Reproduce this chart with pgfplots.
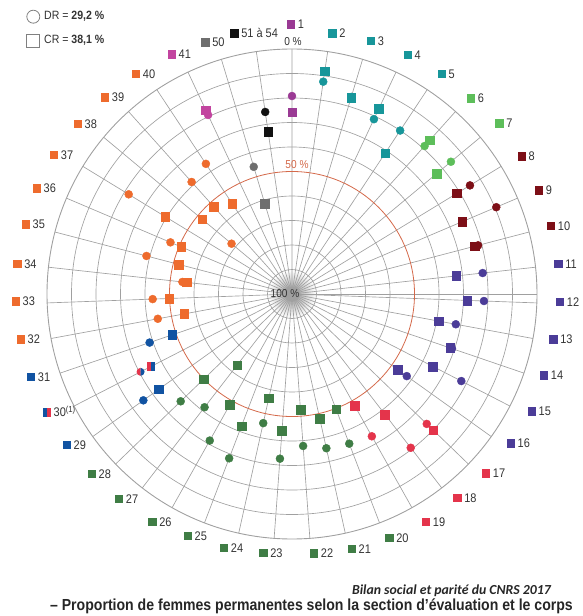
\documentclass[border=0pt]{standalone}
\usepackage{fontspec}
\setmainfont{Liberation Sans}[FakeStretch=0.88]
\newfontfamily\capfont{Carlito}
\usepackage{pgfplots}
\pgfplotsset{compat=1.18}
\usepgfplotslibrary{polar}
\usepackage{pgfplotstable}

\definecolor{c1}{HTML}{9A3A94}
\definecolor{cteal}{HTML}{17969A}
\definecolor{clgreen}{HTML}{5DBE5A}
\definecolor{cdred}{HTML}{7D0F17}
\definecolor{cindigo}{HTML}{4B3C98}
\definecolor{cred}{HTML}{E4344B}
\definecolor{cdgreen}{HTML}{3F7D45}
\definecolor{cblue}{HTML}{1153A2}
\definecolor{corange}{HTML}{EE6B2D}
\definecolor{cmag}{HTML}{C2449F}
\definecolor{cgray}{HTML}{6E6E6E}
\definecolor{cblack}{HTML}{111111}
\definecolor{gridgray}{HTML}{A0A0A0}
\definecolor{c50}{HTML}{D4694A}
\definecolor{labtext}{HTML}{333333}

% DR (circles): k = section index (1..41, 42 = 50, 43 = 51 a 54), p = % women
\pgfplotstableread{
k p g
1 19.2 g1
2 12.4 g2
3 16.0 g2
4 21.2 g2
5 20.0 g2
6 18.9 g3
7 15.6 g3
8 14.9 g4
9 9.4 g4
10 21.5 g4
11 21.7 g5
12 21.6 g5
13 32.0 g5
14 31.0 g5
15 22.3 g5
16 42.4 g5
17 23.6 g6
18 20.7 g6
19 33.4 g6
20 34.6 g7
21 35.5 g7
22 37.8 g7
23 32.6 g7
24 46.0 g7
25 28.2 g7
26 31.4 g7
27 41.6 g7
28 36.9 g7
29 25.4 g8
30 30.5 g9
31 38.6 g8
32 44.3 g10
33 43.1 g10
34 55.0 g10
35 38.6 g10
36 46.1 g10
37 21.9 g10
38 67.9 g10
39 38.6 g10
40 36.3 g10
41 19.3 g11
42 45.8 g12
43 24.9 g13
}\dr

% CR (squares)
\pgfplotstableread{
k p g
1 25.8 g1
2 8.0 g2
3 16.4 g2
4 16.5 g2
5 31.1 g2
6 15.6 g3
7 23.3 g3
8 21.1 g4
9 24.5 g4
10 22.8 g4
11 32.6 g5
12 28.4 g5
13 39.0 g5
14 31.8 g5
15 35.3 g5
16 46.9 g5
17 19.9 g6
18 37.9 g6
19 47.8 g6
20 49.7 g7
21 47.9 g7
22 52.7 g7
23 44.0 g7
24 56.4 g7
25 42.2 g7
26 48.2 g7
27 63.3 g7
28 50.0 g7
29 33.1 g8
30 35.3 g9
31 48.3 g8
32 55.3 g10
33 49.9 g10
34 56.7 g10
35 52.3 g10
36 50.9 g10
37 39.4 g10
38 52.3 g10
39 52.0 g10
40 55.7 g10
41 17.2 g11
42 61.5 g12
43 33.1 g13
}\cr

\pgfdeclareplotmark{halfsq}{%
  \pgfpathrectangle{\pgfpoint{-\pgfplotmarksize}{-\pgfplotmarksize}}{\pgfpoint{\pgfplotmarksize}{2\pgfplotmarksize}}%
  \pgfsetfillcolor{cred}\pgfusepath{fill}%
  \pgfpathrectangle{\pgfpoint{0pt}{-\pgfplotmarksize}}{\pgfpoint{\pgfplotmarksize}{2\pgfplotmarksize}}%
  \pgfsetfillcolor{cblue}\pgfusepath{fill}}
\pgfdeclareplotmark{halfcirc}{%
  \pgfpathmoveto{\pgfpoint{0pt}{\pgfplotmarksize}}%
  \pgfpatharc{90}{270}{\pgfplotmarksize}\pgfpathclose
  \pgfsetfillcolor{cred}\pgfusepath{fill}%
  \pgfpathmoveto{\pgfpoint{0pt}{-\pgfplotmarksize}}%
  \pgfpatharc{-90}{90}{\pgfplotmarksize}\pgfpathclose
  \pgfsetfillcolor{cblue}\pgfusepath{fill}}

\pgfplotsset{grpclasses/.style={scatter/classes={
  g1={draw=c1,fill=c1}, g2={draw=cteal,fill=cteal}, g3={draw=clgreen,fill=clgreen},
  g4={draw=cdred,fill=cdred}, g5={draw=cindigo,fill=cindigo}, g6={draw=cred,fill=cred},
  g7={draw=cdgreen,fill=cdgreen}, g8={draw=cblue,fill=cblue}, g9={mark=#1},
  g10={draw=corange,fill=corange}, g11={draw=cmag,fill=cmag}, g12={draw=cgray,fill=cgray},
  g13={draw=cblack,fill=cblack}}}}

\newcommand\lab[4]{\node[anchor=west, inner sep=0pt, xshift=-4.25pt, text=labtext, font=\fontsize{12.5}{13}\selectfont] at (#1pt,#2pt) {\textcolor{#3}{\rule{8.5pt}{8.5pt}}\hspace{2.5pt}#4};}

\begin{document}
\begin{tikzpicture}
\path (0pt,0pt) rectangle (583pt,616pt);
\shade[inner color=black!40, outer color=white] (292pt,322pt) circle (24pt);
\begin{polaraxis}[
  at={(292pt,322pt)}, anchor=origin,
  scale only axis, width=490pt, height=490pt,
  xmin=0, xmax=360, ymin=0, ymax=100,
  xtick={90,81.628,73.256,64.884,56.512,48.140,39.767,31.395,23.023,14.651,6.279,357.907,349.535,341.163,332.791,324.419,316.047,307.674,299.302,290.930,282.558,274.186,265.814,257.442,249.070,240.698,232.326,223.953,215.581,207.209,198.837,190.465,182.093,173.721,165.349,156.977,148.605,140.233,131.860,123.488,115.116,106.744,98.372},
  ytick={10,20,30,40,60,70,80,90},
  xticklabels={}, yticklabels={},
  xtick style={draw=none}, ytick style={draw=none},
  grid=major,
  major grid style={draw=gridgray, line width=0.65pt},
  axis line style={draw=gridgray, line width=0.9pt},
  extra y ticks={50}, extra y tick labels={},
  extra y tick style={major grid style={draw=c50, line width=0.8pt}, tick style={draw=none}},
]
\addplot[scatter, only marks, mark=*, mark size=4pt, scatter src=explicit symbolic, grpclasses=halfcirc]
  table[x expr={\thisrow{k}<12 ? 90-(\thisrow{k}-1)*8.372093 : 450-(\thisrow{k}-1)*8.372093}, y expr={100-\thisrow{p}}, meta=g] {\dr};
\addplot[scatter, only marks, mark=square*, mark size=4.3pt, scatter src=explicit symbolic, grpclasses=halfsq]
  table[x expr={\thisrow{k}<12 ? 90-(\thisrow{k}-1)*8.372093 : 450-(\thisrow{k}-1)*8.372093}, y expr={100-\thisrow{p}}, meta=g] {\cr};
\end{polaraxis}

% centre and ring labels
\node[text=labtext, font=\fontsize{11.5}{12}\selectfont] at (285pt,322pt) {100 \%};
\node[text=labtext, font=\fontsize{11.5}{12}\selectfont] at (293pt,574pt) {0 \%};
\node[text=c50, font=\fontsize{11.5}{12}\selectfont] at (297pt,451pt) {50 \%};

% section labels
\lab{291}{591.7}{c1}{1}
\lab{332.3}{582.7}{cteal}{2}
\lab{371}{575}{cteal}{3}
\lab{407.7}{561}{cteal}{4}
\lab{441.7}{542}{cteal}{5}
\lab{471}{517.7}{clgreen}{6}
\lab{499.3}{492.7}{clgreen}{7}
\lab{521.7}{459.3}{cdred}{8}
\lab{539}{425.3}{cdred}{9}
\lab{551}{390}{cdred}{10}
\lab{558.3}{352}{cindigo}{11}
\lab{560}{314.3}{cindigo}{12}
\lab{553.3}{276.7}{cindigo}{13}
\lab{544}{240.3}{cindigo}{14}
\lab{531.7}{204.3}{cindigo}{15}
\lab{510.7}{172.7}{cindigo}{16}
\lab{486}{142.7}{cred}{17}
\lab{457.3}{118.3}{cred}{18}
\lab{426}{94.3}{cred}{19}
\lab{389.3}{78.3}{cdgreen}{20}
\lab{351.7}{67.3}{cdgreen}{21}
\lab{314}{62.7}{cdgreen}{22}
\lab{263.3}{63.3}{cdgreen}{23}
\lab{224}{68.3}{cdgreen}{24}
\lab{187.7}{80.3}{cdgreen}{25}
\lab{152.3}{94.3}{cdgreen}{26}
\lab{119}{117}{cdgreen}{27}
\lab{91.7}{142}{cdgreen}{28}
\lab{66.7}{171}{cblue}{29}
\node[anchor=west, inner sep=0pt, xshift=-4.25pt, text=labtext, font=\fontsize{12.5}{13}\selectfont] at (46.7pt,204.3pt) {\textcolor{cblue}{\rule{4.25pt}{8.5pt}}\textcolor{cred}{\rule{4.25pt}{8.5pt}}\hspace{2.5pt}30\textsuperscript{(1)}};
\lab{31}{239.3}{cblue}{31}
\lab{20.7}{276.7}{corange}{32}
\lab{15.7}{314.3}{corange}{33}
\lab{17.3}{352}{corange}{34}
\lab{25.7}{391.7}{corange}{35}
\lab{36.7}{427.7}{corange}{36}
\lab{54}{461}{corange}{37}
\lab{77.7}{492}{corange}{38}
\lab{105}{518.7}{corange}{39}
\lab{136}{542}{corange}{40}
\lab{171.7}{561.7}{cmag}{41}
\lab{205.3}{573.3}{cgray}{50}
\lab{234.3}{582.7}{cblack}{51 à 54}

% legend
\draw[gray, line width=0.8pt] (33.3pt,599.3pt) circle (6.5pt);
\node[anchor=west, inner sep=0pt, text=labtext, font=\fontsize{12}{13}\selectfont] at (44pt,599.3pt) {DR = \textbf{29,2 \%}};
\draw[gray, line width=0.8pt] (26.8pt,568.8pt) rectangle (39.8pt,581.8pt);
\node[anchor=west, inner sep=0pt, text=labtext, font=\fontsize{12}{13}\selectfont] at (44pt,575.3pt) {CR = \textbf{38,1 \%}};

% caption
\node[anchor=east, inner sep=0pt, text=black!85, font=\capfont\bfseries\itshape\fontsize{13.8}{14}\selectfont] at (551pt,25.3pt) {Bilan social et parité du CNRS 2017};
\node[anchor=east, inner sep=0pt, text=black!85, font=\bfseries\fontsize{16}{17}\selectfont] at (573pt,9.5pt) {– Proportion de femmes permanentes selon la section d'évaluation et le corps};
\end{tikzpicture}
\end{document}
